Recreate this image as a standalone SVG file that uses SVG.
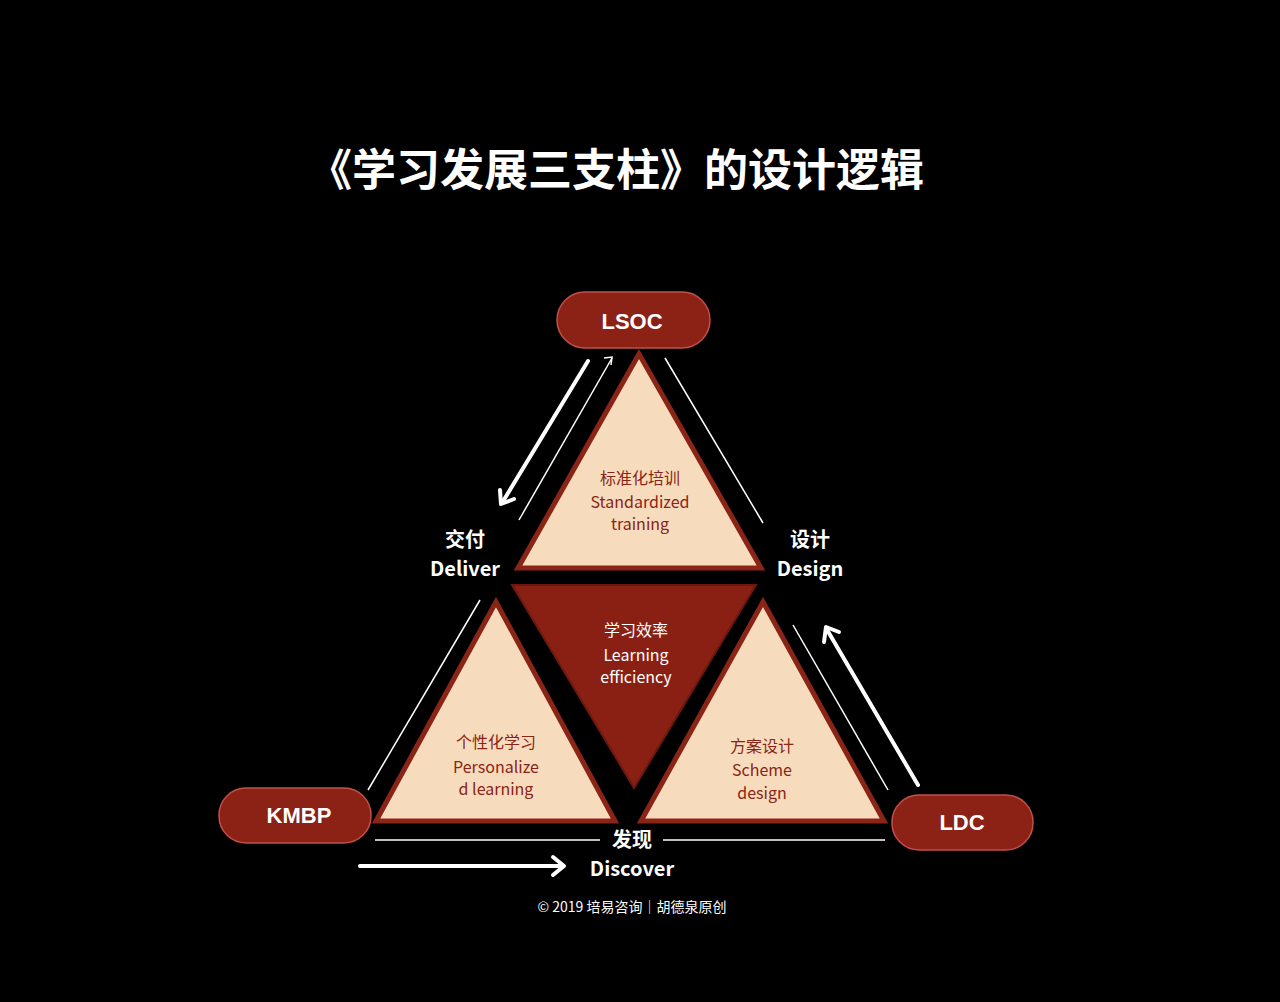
<svg xmlns="http://www.w3.org/2000/svg" width="1280" height="1002" viewBox="0 0 1280 1002">
<style>
.tri{fill:#f6dcbc;stroke:#8a2416;stroke-width:5;stroke-linejoin:miter}
.pill{fill:#8c2116;stroke:#c0504a;stroke-width:1.5}
.pt{font-family:"Liberation Sans","Noto Sans CJK SC",sans-serif;font-weight:bold;font-size:22px;fill:#fff;text-anchor:middle}
.in{font-family:"Noto Sans CJK SC",sans-serif;font-size:16px;fill:#8a2416;text-anchor:middle}
.lb{font-family:"Noto Sans CJK SC",sans-serif;font-weight:bold;font-size:20px;fill:#fff;text-anchor:middle}
.ln{stroke:#fff;stroke-width:1.5;fill:none}
.th{stroke:#fff;stroke-width:4;fill:none;stroke-linecap:round;stroke-linejoin:round}
</style>
<rect width="1280" height="1002" fill="#000"/>
<text x="616" y="186" font-family="Noto Sans CJK SC,sans-serif" font-weight="bold" font-size="44" fill="#fff" text-anchor="middle">《学习发展三支柱》的设计逻辑</text>
<g id="connectors">
<line class="ln" x1="612" y1="358" x2="519" y2="520"/>
<polyline class="ln" points="604,358 612,357 611,365"/>
<line class="th" x1="588" y1="361" x2="502" y2="503"/>
<polyline class="th" points="500,490 501,504 514,499"/>
<line class="ln" x1="665" y1="358" x2="763" y2="523"/>
<line class="ln" x1="368" y1="790" x2="480" y2="600"/>
<line class="ln" x1="793" y1="625" x2="888" y2="790"/>
<line class="th" x1="918" y1="785" x2="826" y2="628"/>
<polyline class="th" points="824,642 826,627 839,632"/>
<line class="ln" x1="375" y1="840" x2="600" y2="840"/>
<line class="ln" x1="663" y1="840" x2="885" y2="840"/>
<line class="th" x1="360" y1="866" x2="563" y2="866"/>
<polyline class="th" points="553,857 564,866 553,875"/>
</g>
<g id="top"><polygon class="tri" points="639,354 518,568 761,568"/><text class="in" x="640" y="484">标准化培训</text><text class="in" x="640" y="508">Standardized</text><text class="in" x="640" y="530">training</text></g>
<g id="center"><polygon points="512,585 756,585 634,788" fill="#8a2013" stroke="#6a1810" stroke-width="2"/><text class="in" x="636" y="636" fill="#fff" style="fill:#fff">学习效率</text><text class="in" x="636" y="661" style="fill:#fff">Learning</text><text class="in" x="636" y="683" style="fill:#fff">efficiency</text></g>
<g id="left"><polygon class="tri" points="496,602 376,821 615,821"/><text class="in" x="496" y="748">个性化学习</text><text class="in" x="496" y="773">Personalize</text><text class="in" x="496" y="795">d learning</text></g>
<g id="right"><polygon class="tri" points="763,602 641,821 884,821"/><text class="in" x="762" y="752">方案设计</text><text class="in" x="762" y="776">Scheme</text><text class="in" x="762" y="799">design</text></g>
<g id="lsoc"><rect class="pill" x="557" y="292" width="153" height="56" rx="28"/><text class="pt" x="632" y="329">LSOC</text></g>
<g id="kmbp"><rect class="pill" x="219" y="788" width="152" height="55" rx="27"/><text class="pt" x="299" y="823">KMBP</text></g>
<g id="ldc"><rect class="pill" x="892" y="795" width="141" height="55" rx="27"/><text class="pt" x="962" y="830">LDC</text></g>
<g id="labels">
<text class="lb" x="465" y="547">交付</text><text class="lb" x="465" y="576">Deliver</text>
<text class="lb" x="810" y="547">设计</text><text class="lb" x="810" y="576">Design</text>
<text class="lb" x="632" y="847">发现</text><text class="lb" x="632" y="876">Discover</text>
<text x="632" y="912" font-family="Noto Sans CJK SC,sans-serif" font-size="14" fill="#fff" text-anchor="middle">© 2019 培易咨询｜胡德泉原创</text>
</g>
</svg>
